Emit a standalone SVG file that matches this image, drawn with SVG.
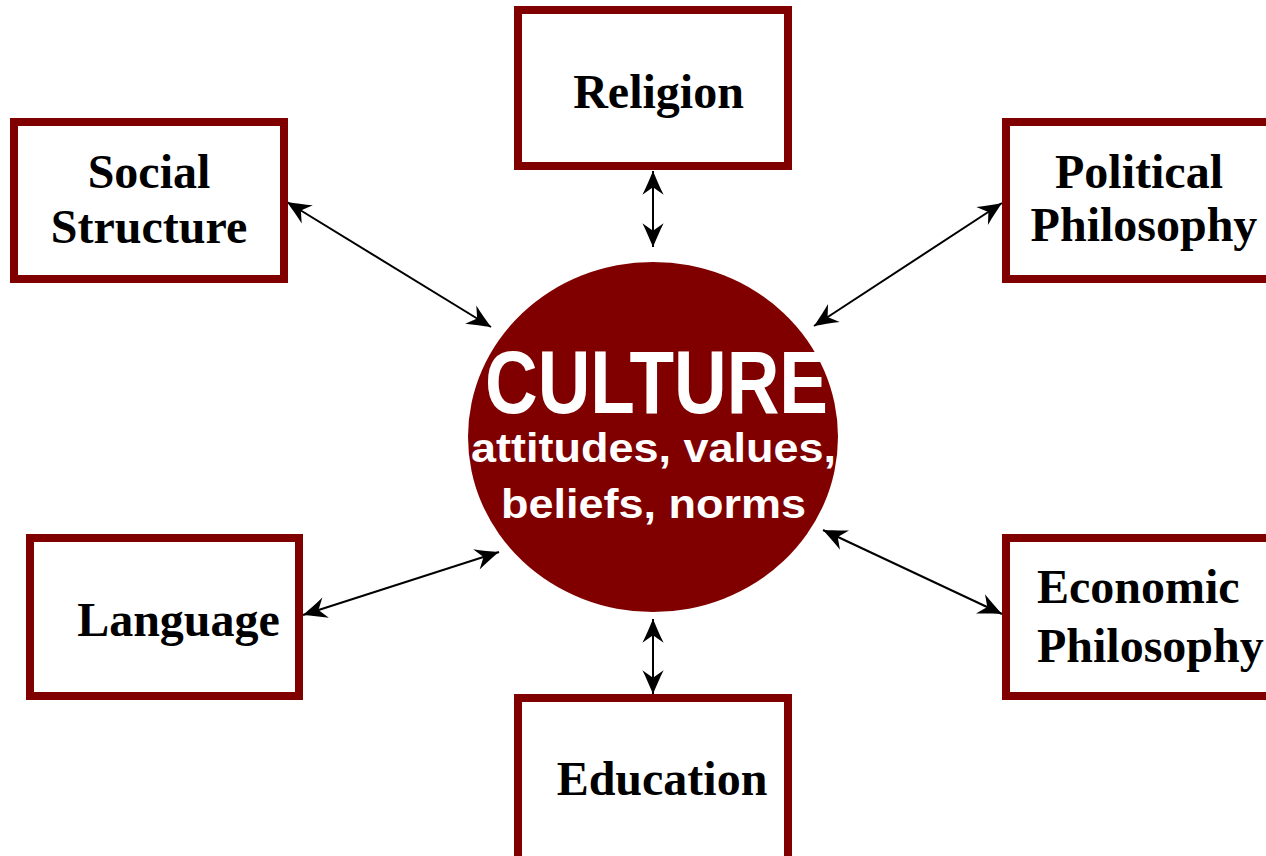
<svg xmlns="http://www.w3.org/2000/svg" width="1266" height="856" viewBox="0 0 1266 856">
<style>
.box{fill:#ffffff;stroke:#800000;stroke-width:8}
.lbl{font-family:"Liberation Serif","Times New Roman",serif;font-weight:bold;font-size:48px;fill:#000000}
.con{stroke:#000000;stroke-width:2;fill:none;marker-start:url(#arr);marker-end:url(#arr)}
.ctext{font-family:"Liberation Sans",Arial,sans-serif;font-weight:bold;fill:#ffffff}
</style>
<defs>
<marker id="arr" markerUnits="userSpaceOnUse" markerWidth="30" markerHeight="30" viewBox="-22 -11 24 22" refX="0" refY="0" orient="auto-start-reverse">
<path d="M0,0 C-6,2.5 -13,5.5 -19,8.5 L-13,0 L-19,-8.5 C-13,-5.5 -6,-2.5 0,0 Z" fill="#000000"/>
</marker>
</defs>
<rect width="1266" height="856" fill="#ffffff"/>
<g id="connectors">
<line class="con" x1="653" y1="171" x2="653" y2="247"/>
<line class="con" x1="653" y1="619" x2="653" y2="694"/>
<line class="con" x1="287" y1="202" x2="491" y2="327"/>
<line class="con" x1="1002" y1="203" x2="814" y2="326"/>
<line class="con" x1="303" y1="615" x2="499" y2="552"/>
<line class="con" x1="823" y1="530" x2="1002" y2="614"/>
</g>
<g id="culture">
<ellipse cx="653" cy="437" rx="185" ry="175" fill="#800000"/>
<text class="ctext" x="485" y="413" font-size="89" textLength="343" lengthAdjust="spacingAndGlyphs">CULTURE</text>
<text class="ctext" x="653.5" y="462" font-size="40" text-anchor="middle" textLength="365" lengthAdjust="spacingAndGlyphs">attitudes, values,</text>
<text class="ctext" x="653.5" y="518" font-size="40" text-anchor="middle" textLength="305" lengthAdjust="spacingAndGlyphs">beliefs, norms</text>
</g>
<g id="religion">
<rect class="box" x="518" y="10" width="270" height="156"/>
<text class="lbl" x="658.5" y="108" text-anchor="middle">Religion</text>
</g>
<g id="social-structure">
<rect class="box" x="14" y="122" width="270" height="157"/>
<text class="lbl" x="149" y="188" text-anchor="middle">Social</text>
<text class="lbl" x="149" y="243" text-anchor="middle">Structure</text>
</g>
<g id="political-philosophy">
<rect class="box" x="1006" y="122" width="290" height="157"/>
<text class="lbl" x="1139" y="188" text-anchor="middle">Political</text>
<text class="lbl" x="1144" y="241" text-anchor="middle">Philosophy</text>
</g>
<g id="language">
<rect class="box" x="30" y="538" width="269" height="158"/>
<text class="lbl" x="178.5" y="636" text-anchor="middle">Language</text>
</g>
<g id="education">
<rect class="box" x="518" y="698" width="270" height="180"/>
<text class="lbl" x="662" y="795" text-anchor="middle">Education</text>
</g>
<g id="economic-philosophy">
<rect class="box" x="1006" y="538" width="290" height="158"/>
<text class="lbl" x="1037" y="603">Economic</text>
<text class="lbl" x="1037" y="662">Philosophy</text>
</g>
</svg>
